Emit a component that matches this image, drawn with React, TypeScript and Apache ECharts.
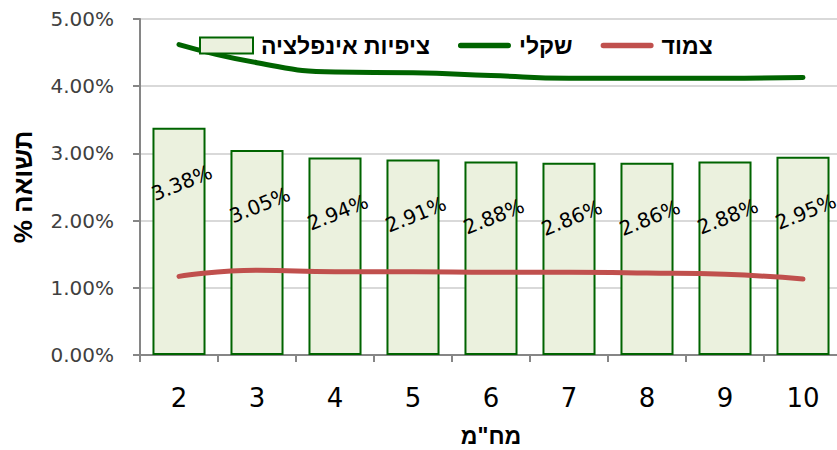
import React, { useEffect, useRef } from "react";
import * as echarts from "echarts";

const categories = ["2", "3", "4", "5", "6", "7", "8", "9", "10"];
const inflationExpect = [3.38, 3.05, 2.94, 2.91, 2.88, 2.86, 2.86, 2.88, 2.95];
const nominal = [4.62, 4.35, 4.21, 4.2, 4.16, 4.12, 4.12, 4.12, 4.13];
const cpiLinked = [1.17, 1.26, 1.24, 1.24, 1.23, 1.23, 1.22, 1.2, 1.13];
const seriesNames = ["ציפיות אינפלציה", "שקלי", "צמוד"];
const yTicks = [0, 1, 2, 3, 4, 5];

const NUM_FONT = "DejaVu Sans";
const HEB_FONT = "Liberation Sans";
const LINE_ICON = "path://M3,0 L57,0 A3,3 0 0 1 57,6 L3,6 A3,3 0 0 1 3,0 Z";

export default function App() {
  const ref = useRef<HTMLDivElement>(null);
  useEffect(() => {
    if (!ref.current) return;
    const chart = echarts.init(ref.current, null, { renderer: "svg" });
    chart.setOption({
      animation: false,
      textStyle: { fontFamily: NUM_FONT },
      legend: {
        left: 194,
        top: 29,
        itemWidth: 53,
        itemHeight: 16,
        itemGap: 28,
        textStyle: {
          fontFamily: HEB_FONT,
          fontSize: 23,
          fontWeight: "bold",
          color: "#000",
          padding: [0, 0, 0, 3],
        },
        data: [
          { name: seriesNames[0], icon: "rect" },
          { name: seriesNames[1], icon: LINE_ICON },
          { name: seriesNames[2], icon: LINE_ICON },
        ],
      },
      grid: { left: 140, top: 19, bottom: 95, right: -5, outerBoundsMode: "none" },
      xAxis: {
        type: "category",
        data: categories,
        boundaryGap: true,
        name: "מח\"מ",
        nameLocation: "middle",
        nameGap: 69,
        nameTextStyle: { fontFamily: HEB_FONT, fontSize: 23, fontWeight: "bold", color: "#000" },
        axisLine: { lineStyle: { color: "#868686", width: 2 } },
        axisTick: { show: true, alignWithLabel: false, length: 7, lineStyle: { color: "#868686", width: 2 } },
        axisLabel: { margin: 30, fontSize: 26, color: "#000", fontFamily: NUM_FONT },
      },
      yAxis: {
        type: "value",
        min: yTicks[0],
        max: yTicks[yTicks.length - 1],
        interval: 1,
        name: "% תשואה",
        nameLocation: "middle",
        nameGap: 104,
        nameTextStyle: { fontFamily: HEB_FONT, fontSize: 26, fontWeight: "bold", color: "#000" },
        axisLine: { show: true, lineStyle: { color: "#868686", width: 2 } },
        axisTick: { show: true, inside: false, length: 7, lineStyle: { color: "#868686", width: 2 } },
        axisLabel: {
          margin: 26,
          fontSize: 20,
          color: "#404040",
          fontFamily: NUM_FONT,
          formatter: (v: number) => v.toFixed(2) + "%",
        },
        splitLine: { lineStyle: { color: "#D9D9D9", width: 2 } },
      },
      series: [
        {
          name: seriesNames[0],
          type: "bar",
          data: inflationExpect,
          barCategoryGap: "32%",
          itemStyle: { color: "#EBF1DE", borderColor: "#006400", borderWidth: 2 },
          label: {
            show: true,
            position: "insideTop",
            distance: 0,
            align: "center",
            verticalAlign: "middle",
            offset: [-18, 52],
            rotate: 22,
            fontSize: 20,
            color: "#000",
            fontFamily: NUM_FONT,
            formatter: (p: any) => p.value.toFixed(2) + "%",
          },
          z: 1,
        },
        {
          name: seriesNames[1],
          type: "line",
          data: nominal,
          smooth: true,
          symbol: "none",
          lineStyle: { color: "#006400", width: 5, cap: "round" },
          itemStyle: { color: "#006400" },
          z: 3,
        },
        {
          name: seriesNames[2],
          type: "line",
          data: cpiLinked,
          smooth: true,
          symbol: "none",
          lineStyle: { color: "#C0504D", width: 5, cap: "round" },
          itemStyle: { color: "#C0504D" },
          z: 3,
        },
      ],
    });
    return () => chart.dispose();
  }, []);
  return (
    <div
      ref={ref}
      style={{ position: "fixed", left: 0, top: 0, width: 837, height: 450, background: "#fff" }}
    />
  );
}
